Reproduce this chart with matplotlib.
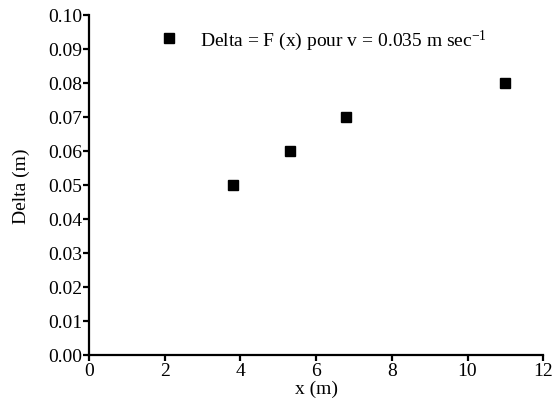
import matplotlib
matplotlib.use('Agg')
import matplotlib.pyplot as plt

# data
x_vals = [3.8, 5.3, 6.8, 11.0]
delta_vals = [0.05, 0.06, 0.07, 0.08]
x_ticks = [0, 2, 4, 6, 8, 10, 12]
y_ticks = [0.00, 0.01, 0.02, 0.03, 0.04, 0.05, 0.06, 0.07, 0.08, 0.09, 0.10]

plt.rcParams['font.family'] = ['Liberation Serif', 'DejaVu Serif']
plt.rcParams['mathtext.fontset'] = 'custom'
plt.rcParams['mathtext.rm'] = 'Liberation Serif'
plt.rcParams['mathtext.it'] = 'Liberation Serif'

fs = 14

fig = plt.figure(figsize=(5.56, 4.10), dpi=100)
ax = fig.add_axes([0.160, 0.132, 0.817, 0.829])

ax.plot(x_vals, delta_vals, 's', color='black', markersize=7.5,
        label=r'Delta = F (x) pour v = 0.035 m sec$^{-1}$')

ax.set_xlim(0, 12)
ax.set_ylim(0, 0.10)
ax.set_xticks(x_ticks)
ax.set_yticks(y_ticks)
ax.set_yticklabels([f'{v:.2f}' for v in y_ticks])
ax.set_xlabel('x (m)', fontsize=fs, labelpad=0.5)
ax.set_ylabel('Delta (m)', fontsize=fs, labelpad=13)

for side in ['top', 'right']:
    ax.spines[side].set_visible(False)
for side in ['left', 'bottom']:
    ax.spines[side].set_linewidth(1.6)
ax.tick_params(direction='out', length=4.5, width=1.6, labelsize=fs, pad=0.5)

ax.legend(loc='upper left', bbox_to_anchor=(0.117, 1.015), frameon=False,
          fontsize=fs, markerscale=1.0, handlelength=1.0, handletextpad=1.1)

fig.savefig('out.png', dpi=100)
